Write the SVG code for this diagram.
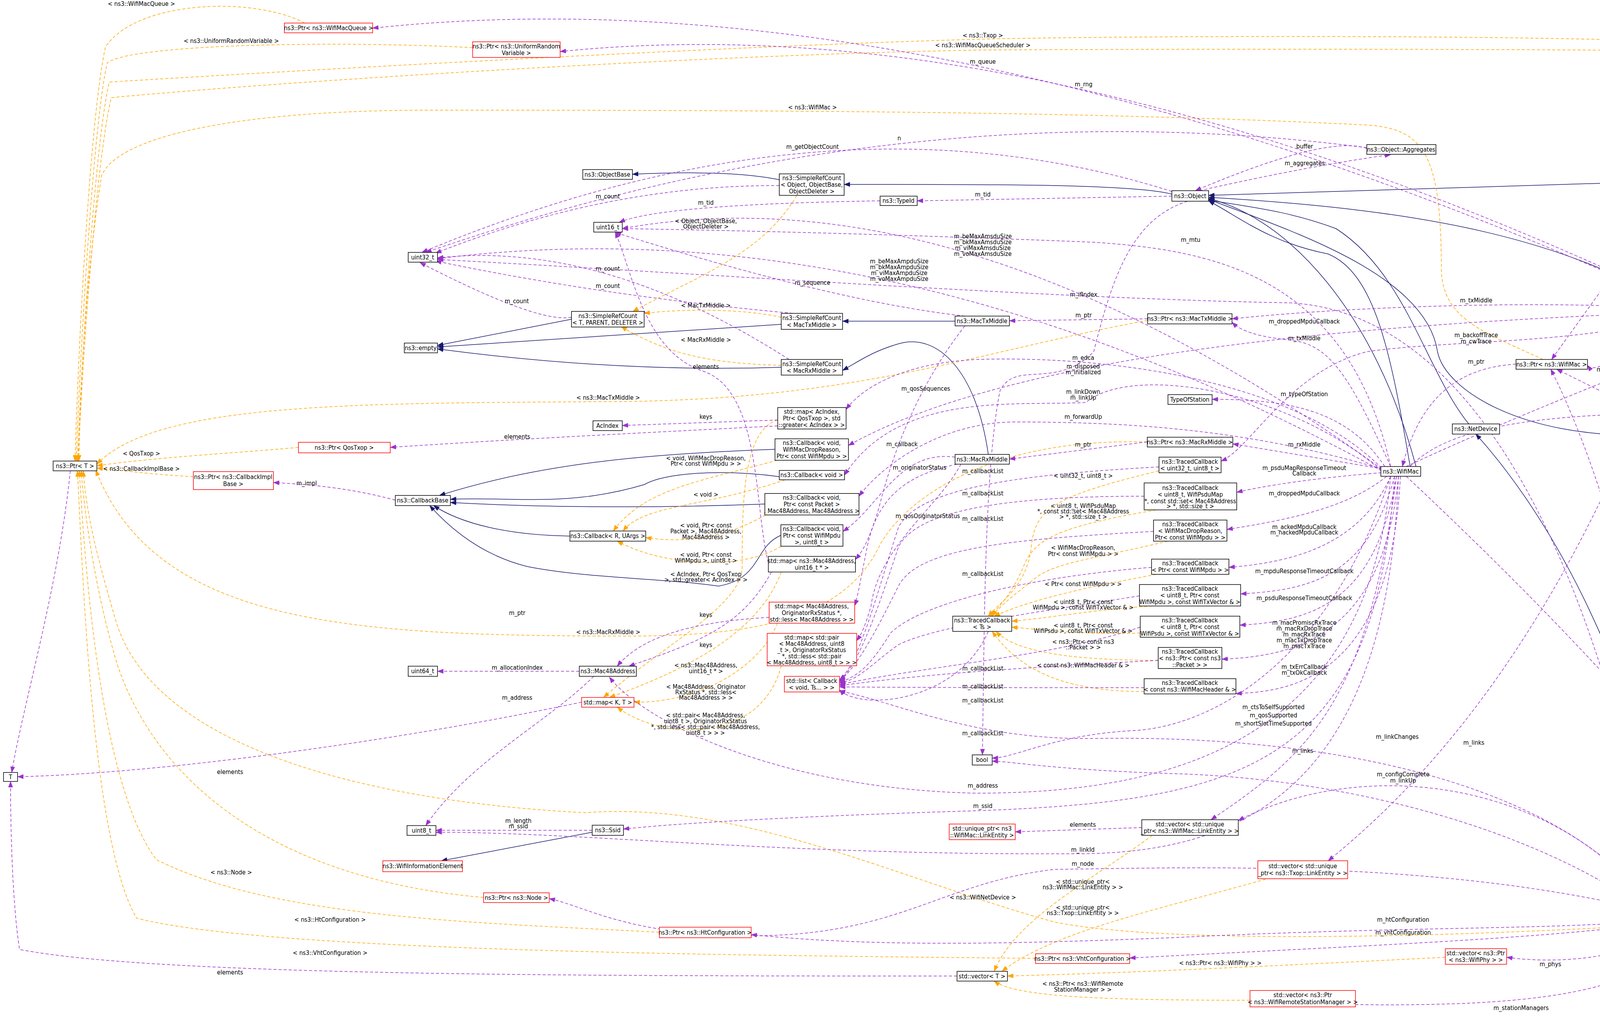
<svg xmlns="http://www.w3.org/2000/svg" width="4733" height="2608" viewBox="0 0 4733 2608">
<style>
text{font-family:"DejaVu Sans Condensed","DejaVu Sans",sans-serif;font-stretch:condensed;font-size:16px;fill:#000;text-anchor:middle}
.node rect{fill:#fff;stroke:#000;stroke-width:1.5}
.node.red rect{stroke:#ff0000}
.node.main rect{fill:#bfbfbf}
.e path{fill:none;stroke-width:1.5}
.u{stroke:#9a32cd;stroke-dasharray:8,5}
.t{stroke:#ffa500;stroke-dasharray:8,5}
.i{stroke:#191970}
</style>
<defs>
<marker id="mu" markerWidth="16" markerHeight="12" refX="15" refY="6" orient="auto" markerUnits="userSpaceOnUse"><path d="M0,0 L16,6 L0,12 z" fill="#9a32cd"/></marker>
<marker id="mt" markerWidth="16" markerHeight="12" refX="15" refY="6" orient="auto" markerUnits="userSpaceOnUse"><path d="M0,0 L16,6 L0,12 z" fill="#ffa500"/></marker>
<marker id="mi" markerWidth="16" markerHeight="12" refX="15" refY="6" orient="auto" markerUnits="userSpaceOnUse"><path d="M0,0 L16,6 L0,12 z" fill="#191970"/></marker>
</defs>
<rect width="4733" height="2608" fill="#fff"/>

<g id="edges" class="e">
<!-- inheritance -->
<g marker-end="url(#mi)">
<path class="i" d="M1995,460 C1900,440 1750,440 1619,446"/>
<path class="i" d="M3000,497 C2900,470 2500,472 2161,472"/>
<path class="i" d="M4200,466 L3094,500"/>
<path class="i" d="M4290,780 C4000,620 3700,540 3094,505"/>
<path class="i" d="M4205,1113 C3900,1120 3700,1000 3680,900 C3650,700 3300,590 3094,510"/>
<path class="i" d="M3760,1085 C3650,950 3600,700 3420,585 C3300,540 3200,530 3094,512"/>
<path class="i" d="M3610,1194 C3560,900 3520,700 3400,650 C3250,620 3180,560 3094,514"/>
<path class="i" d="M3625,1194 C3520,800 3300,560 3094,508"/>
<path class="i" d="M2445,822 L2157,822"/>
<path class="i" d="M2000,830 L1120,888"/>
<path class="i" d="M1463,817 L1120,884"/>
<path class="i" d="M2000,940 C1700,950 1400,930 1120,893"/>
<path class="i" d="M2530,1163 C2500,950 2400,850 2300,880 C2230,900 2190,930 2157,948"/>
<path class="i" d="M1984,1150 C1700,1160 1400,1180 1125,1268"/>
<path class="i" d="M1995,1220 C1850,1200 1700,1210 1650,1240 C1450,1300 1300,1270 1153,1278"/>
<path class="i" d="M1958,1290 C1700,1300 1400,1300 1153,1286"/>
<path class="i" d="M1459,1372 C1300,1370 1180,1340 1110,1294"/>
<path class="i" d="M1999,1370 C1930,1400 1950,1480 1840,1500 C1700,1480 1500,1480 1350,1450 C1230,1420 1150,1350 1100,1294"/>
<path class="i" d="M1516,2130 L1130,2203"/>
<path class="i" d="M4300,2332 C4200,1700 3950,1300 3778,1111"/>
<path class="i" d="M4519,1103 L4405,1103"/>
</g>
<!-- template -->
<g marker-end="url(#mt)">
<path class="t" d="M780,59 C650,-10 350,0 270,120 C230,300 200,900 192,1180"/>
<path class="t" d="M1210,122 C900,105 350,110 275,160 C240,300 205,900 195,1180"/>
<path class="t" d="M4620,781 C4550,500 4500,150 4350,110 C4000,90 3000,90 2516,100 C1800,120 600,190 280,210 C245,350 210,900 198,1180"/>
<path class="t" d="M4620,445 C4550,250 4500,140 4300,130 C3800,125 3000,125 2516,128 C1800,140 700,210 285,250 C248,400 212,900 200,1180"/>
<path class="t" d="M3950,920 C3800,850 3700,820 3690,700 C3690,400 3650,330 3500,320 C2800,285 2000,282 1100,282 C600,282 300,350 260,450 C220,700 205,1000 202,1180"/>
<path class="t" d="M2938,820 C2500,900 2200,1025 1557,1028 C900,1032 400,1030 248,1188"/>
<path class="t" d="M2937,1131 C2500,1120 2300,1300 2250,1400 C2150,1600 1900,1630 1557,1628 C900,1625 400,1600 245,1203"/>
<path class="t" d="M764,1145 C600,1160 400,1170 248,1192"/>
<path class="t" d="M495,1220 C400,1215 320,1205 248,1198"/>
<path class="t" d="M1238,2297 C700,2250 400,2000 300,1700 C240,1500 215,1300 208,1205"/>
<path class="t" d="M1688,2386 C1200,2360 700,2350 400,2200 C250,2000 215,1400 203,1205"/>
<path class="t" d="M2651,2453 C2000,2445 700,2440 350,2350 C230,2150 210,1400 198,1205"/>
<path class="t" d="M4500,2350 C3800,2400 3000,2420 2700,2360 C2300,2250 1900,2050 1500,2080 C900,2050 400,1900 300,1600 C240,1400 220,1300 213,1205"/>
<path class="t" d="M2040,500 C1950,650 1800,700 1620,797"/>
<path class="t" d="M2000,812 C1900,790 1750,790 1649,802"/>
<path class="t" d="M2000,935 C1800,930 1700,900 1590,836"/>
<path class="t" d="M1990,1178 C1800,1230 1650,1250 1570,1359"/>
<path class="t" d="M2010,1228 C1800,1300 1650,1290 1595,1359"/>
<path class="t" d="M1960,1318 C1850,1380 1750,1390 1653,1376"/>
<path class="t" d="M2000,1398 C1900,1460 1700,1450 1580,1385"/>
<path class="t" d="M1991,1075 C1900,1100 1900,1300 1900,1450 C1900,1550 1700,1650 1545,1785"/>
<path class="t" d="M2000,1464 C1950,1600 1800,1700 1560,1785"/>
<path class="t" d="M1990,1595 C1950,1700 1800,1800 1623,1797"/>
<path class="t" d="M2000,1704 C1950,1900 1700,1900 1580,1810"/>
<path class="t" d="M2967,1205 C2700,1270 2650,1300 2640,1400 C2630,1500 2560,1540 2530,1577"/>
<path class="t" d="M2960,1305 C2700,1350 2650,1380 2620,1450 C2590,1520 2560,1550 2535,1577"/>
<path class="t" d="M2990,1385 C2800,1430 2700,1440 2650,1480 C2600,1520 2560,1550 2540,1577"/>
<path class="t" d="M2960,1470 C2800,1500 2650,1530 2545,1577"/>
<path class="t" d="M2950,1551 C2800,1560 2700,1580 2590,1590"/>
<path class="t" d="M2919,1620 C2800,1625 2700,1615 2590,1605"/>
<path class="t" d="M2965,1690 C2750,1690 2600,1670 2550,1616"/>
<path class="t" d="M2929,1770 C2700,1770 2600,1700 2540,1616"/>
<path class="t" d="M2950,2138 C2800,2250 2600,2350 2545,2486"/>
<path class="t" d="M3240,2250 C3000,2320 2700,2380 2565,2486"/>
<path class="t" d="M3700,2450 C3300,2470 2900,2490 2579,2498"/>
<path class="t" d="M3200,2560 C2800,2560 2600,2550 2545,2511"/>
</g>
<!-- usage -->
<g marker-end="url(#mu)">
<path class="u" d="M4300,780 Q2405,-82 954,72"/>
<path class="u" d="M4310,780 Q2676,4 1434,132"/>
<path class="u" d="M3499,378 Q2310,224 1090,646"/>
<path class="u" d="M3000,490 Q2120,212 1080,646"/>
<path class="u" d="M1995,475 Q1557,473 1115,648"/>
<path class="u" d="M3000,502 L2348,514"/>
<path class="u" d="M2253,514 Q1695,523 1585,569"/>
<path class="u" d="M3499,380 Q3400,344 3060,488"/>
<path class="u" d="M3070,488 Q3365,422 3560,396"/>
<path class="u" d="M1463,812 Q1377,828 1075,672"/>
<path class="u" d="M2030,802 Q1540,757 1115,668"/>
<path class="u" d="M2020,920 Q1542,614 1120,660"/>
<path class="u" d="M3537,1200 Q2467,428 1593,585"/>
<path class="u" d="M3537,1205 Q2276,517 1120,662"/>
<path class="u" d="M2470,809 Q2138,772 1575,595"/>
<path class="u" d="M3560,1194 C3450,700 3100,640 2800,620 C2300,600 1900,590 1593,585"/>
<path class="u" d="M4250,2332 C4100,1500 3800,800 3300,775 C2700,765 1800,700 1120,664"/>
<path class="u" d="M4509,465 L4410,465"/>
<path class="u" d="M4533,793 L4347,793"/>
<path class="u" d="M3881,932 C3750,940 3640,1000 3590,1194"/>
<path class="u" d="M2938,816 L2584,821"/>
<path class="u" d="M2937,1131 L2584,1175"/>
<path class="u" d="M4290,478 L3972,920"/>
<path class="u" d="M4290,805 Q4089,970 4064,935"/>
<path class="u" d="M4280,1091 L3985,945"/>
<path class="u" d="M4310,2332 C4250,1700 4100,1200 3970,945"/>
<path class="u" d="M3600,1194 C3800,1100 4050,1000 4300,900 C4500,800 4560,600 4600,484"/>
<path class="u" d="M3610,1194 C3700,1100 3900,1070 4150,1060 C4400,1050 4550,900 4610,805"/>
<path class="u" d="M3560,1194 C3450,950 3400,880 3300,870 C3200,860 3170,840 3154,825"/>
<path class="u" d="M4262,790 C4000,770 3500,780 3154,816"/>
<path class="u" d="M4262,800 C3500,830 2600,900 2172,1140"/>
<path class="u" d="M4280,805 C4100,880 3700,870 3500,900 C3300,950 3200,1150 3126,1180"/>
<path class="u" d="M3540,1200 L3156,1136"/>
<path class="u" d="M3545,1194 C3450,1050 3300,1022 3103,1022"/>
<path class="u" d="M3537,1210 C3400,1220 3250,1240 3166,1260"/>
<path class="u" d="M3550,1219 C3450,1300 3300,1330 3141,1355"/>
<path class="u" d="M3560,1219 C3480,1400 3300,1440 3146,1452"/>
<path class="u" d="M3570,1219 C3500,1480 3350,1510 3176,1520"/>
<path class="u" d="M3575,1219 C3520,1550 3350,1590 3174,1600"/>
<path class="u" d="M3580,1219 C3540,1640 3300,1680 3128,1687"/>
<path class="u" d="M3585,1219 C3560,1740 3300,1770 3164,1775"/>
<path class="u" d="M2967,1195 C2600,1215 2350,1250 2300,1350 C2250,1500 2200,1700 2149,1740"/>
<path class="u" d="M2929,1270 C2600,1270 2350,1300 2300,1400 C2250,1550 2200,1700 2149,1742"/>
<path class="u" d="M2953,1360 C2600,1380 2350,1400 2300,1500 C2250,1600 2200,1700 2149,1744"/>
<path class="u" d="M2948,1452 C2600,1480 2350,1550 2280,1620 C2230,1700 2200,1730 2149,1746"/>
<path class="u" d="M2917,1525 C2700,1560 2400,1600 2300,1650 C2230,1700 2200,1740 2149,1748"/>
<path class="u" d="M2919,1605 C2700,1680 2400,1700 2149,1752"/>
<path class="u" d="M2965,1690 C2700,1705 2400,1720 2149,1755"/>
<path class="u" d="M2929,1760 C2600,1760 2400,1760 2149,1758"/>
<path class="u" d="M2530,1616 C2450,1800 2200,1820 2149,1765"/>
<path class="u" d="M3537,1198 C3300,960 2800,910 2500,920 C2300,930 2200,1000 2166,1048"/>
<path class="u" d="M3040,515 C2900,560 2850,700 2800,900 C2700,1000 2600,920 2560,1000 C2520,1200 2520,1600 2515,1932"/>
<path class="u" d="M3537,1205 C3300,1000 2900,930 2780,1030 C2600,1040 2300,1000 2162,1216"/>
<path class="u" d="M3537,1200 C3200,1100 2900,1080 2600,1080 C2400,1080 2250,1200 2199,1270"/>
<path class="u" d="M2445,1170 C2300,1150 2250,1300 2158,1360"/>
<path class="u" d="M2450,1188 C2350,1210 2250,1250 2220,1400 C2200,1500 2195,1530 2188,1550"/>
<path class="u" d="M2460,1188 C2400,1300 2250,1400 2230,1550 C2210,1620 2200,1630 2193,1640"/>
<path class="u" d="M2470,834 C2380,950 2300,1100 2250,1300 C2220,1400 2200,1420 2190,1432"/>
<path class="u" d="M1991,1075 L1593,1089"/>
<path class="u" d="M1991,1090 C1600,1110 1300,1125 999,1145"/>
<path class="u" d="M1969,1580 C1800,1590 1650,1620 1580,1705"/>
<path class="u" d="M1975,1464 C1900,1600 1800,1640 1610,1705"/>
<path class="u" d="M1967,1440 C1930,1300 1950,1000 1800,950 C1650,900 1620,700 1575,594"/>
<path class="u" d="M1012,1280 C900,1250 800,1240 700,1235"/>
<path class="u" d="M180,1205 C150,1500 60,1800 30,1977"/>
<path class="u" d="M1489,1797 C1000,1900 400,1980 45,1988"/>
<path class="u" d="M2450,2498 C1500,2498 400,2498 50,2430 C30,2300 27,2100 27,2000"/>
<path class="u" d="M2923,2118 L2599,2129"/>
<path class="u" d="M1483,1718 L1120,1718"/>
<path class="u" d="M1520,1731 C1400,1850 1200,1950 1090,2113"/>
<path class="u" d="M1516,2125 L1116,2125"/>
<path class="u" d="M3560,1219 C3500,1900 3000,2030 2500,2030 C2000,2020 1650,1850 1560,1733"/>
<path class="u" d="M3570,1219 C3520,1950 3200,2050 2500,2075 C2000,2090 1700,2110 1596,2122"/>
<path class="u" d="M3575,1219 C3500,1800 3350,1930 3100,2098"/>
<path class="u" d="M4300,805 C4150,1200 3900,1800 3400,2203"/>
<path class="u" d="M4240,2340 C4000,2000 3500,1930 3170,2100"/>
<path class="u" d="M3580,1219 C3550,2000 3200,2180 2772,2185 C2000,2190 1500,2130 1116,2130"/>
<path class="u" d="M4260,2340 C3700,2200 3100,2220 2700,2225 C2400,2260 2300,2400 1900,2395 C1600,2390 1500,2320 1406,2300"/>
<path class="u" d="M4240,2355 C4000,2380 3600,2370 3000,2400 C2500,2420 2200,2420 1923,2392"/>
<path class="u" d="M4250,2360 C4000,2400 3500,2420 2892,2452"/>
<path class="u" d="M4300,2360 C4200,2450 4000,2470 3857,2450"/>
<path class="u" d="M4320,2360 C4250,2550 3900,2580 3400,2570"/>
<path class="u" d="M3600,1219 C3900,1500 4300,1900 4600,2331"/>
<path class="u" d="M4500,2344 L4383,2345"/>
<path class="u" d="M4233,2340 C3900,2100 3400,1990 3000,1980 C2700,1970 2600,1950 2540,1948"/>
<path class="u" d="M3560,1219 C3400,1700 3100,1860 2900,1870 C2700,1880 2600,1940 2540,1940"/>
<path class="u" d="M4240,2335 C4000,2000 3400,1880 2800,1890 C2500,1895 2300,1800 2149,1768"/>
</g>
<!-- edge labels -->
<g id="elabels">
<text x="362" y="15">&lt; ns3::WifiMacQueue &gt;</text>
<text x="592" y="110">&lt; ns3::UniformRandomVariable &gt;</text>
<text x="2516" y="96">&lt; ns3::Txop &gt;</text>
<text x="2516" y="121">&lt; ns3::WifiMacQueueScheduler &gt;</text>
<text x="2516" y="163">m_queue</text>
<text x="2774" y="221">m_rng</text>
<text x="2080" y="280">&lt; ns3::WifiMac &gt;</text>
<text x="2302" y="359">n</text>
<text x="2080" y="381">m_getObjectCount</text>
<text x="3340" y="380">buffer</text>
<text x="3340" y="423">m_aggregates</text>
<text x="4458" y="460">m_ptr</text>
<text x="1556" y="508">m_count</text>
<text x="2516" y="503">m_tid</text>
<text x="1807" y="524">m_tid</text>
<text x="1807" y="571">&lt; Object, ObjectBase,</text>
<text x="1807" y="585">ObjectDeleter &gt;</text>
<text x="2516" y="610">m_beMaxAmsduSize</text>
<text x="2516" y="625">m_bkMaxAmsduSize</text>
<text x="2516" y="640">m_viMaxAmsduSize</text>
<text x="2516" y="655">m_voMaxAmsduSize</text>
<text x="3048" y="619">m_mtu</text>
<text x="4133" y="652">m_mac</text>
<text x="2302" y="674">m_beMaxAmpduSize</text>
<text x="2302" y="689">m_bkMaxAmpduSize</text>
<text x="2302" y="704">m_viMaxAmpduSize</text>
<text x="2302" y="719">m_voMaxAmpduSize</text>
<text x="1556" y="693">m_count</text>
<text x="1556" y="737">m_count</text>
<text x="2080" y="729">m_sequence</text>
<text x="2774" y="759">m_ifIndex</text>
<text x="1323" y="776">m_count</text>
<text x="1807" y="787">&lt; MacTxMiddle &gt;</text>
<text x="2774" y="812">m_ptr</text>
<text x="3779" y="774">m_txMiddle</text>
<text x="4458" y="789">m_ptr</text>
<text x="3339" y="828">m_droppedMpduCallback</text>
<text x="3339" y="871">m_txMiddle</text>
<text x="3779" y="863">m_backoffTrace</text>
<text x="3779" y="879">m_cwTrace</text>
<text x="1807" y="875">&lt; MacRxMiddle &gt;</text>
<text x="4133" y="912">m_mac</text>
<text x="3779" y="931">m_ptr</text>
<text x="4133" y="951">m_scheduler</text>
<text x="1807" y="944">elements</text>
<text x="2773" y="921">m_edca</text>
<text x="2773" y="943">m_disposed</text>
<text x="2773" y="958">m_initialized</text>
<text x="2370" y="1000">m_qosSequences</text>
<text x="4133" y="1003">m_mac</text>
<text x="2773" y="1008">m_linkDown</text>
<text x="2773" y="1023">m_linkUp</text>
<text x="3339" y="1014">m_typeOfStation</text>
<text x="1557" y="1023">&lt; ns3::MacTxMiddle &gt;</text>
<text x="4133" y="1050">m_txop</text>
<text x="1807" y="1072">keys</text>
<text x="2773" y="1072">m_forwardUp</text>
<text x="4133" y="1112">m_mac</text>
<text x="1324" y="1123">elements</text>
<text x="2309" y="1142">m_callback</text>
<text x="2773" y="1143">m_ptr</text>
<text x="3339" y="1143">m_rxMiddle</text>
<text x="362" y="1166">&lt; QosTxop &gt;</text>
<text x="1807" y="1178">&lt; void, WifiMacDropReason,</text>
<text x="1807" y="1192">Ptr&lt; const WifiMpdu &gt; &gt;</text>
<text x="3339" y="1203">m_psduMapResponseTimeout</text>
<text x="3339" y="1217">Callback</text>
<text x="2354" y="1202">m_originatorStatus</text>
<text x="362" y="1205">&lt; ns3::CallbackImplBase &gt;</text>
<text x="2516" y="1211">m_callbackList</text>
<text x="2773" y="1223">&lt; uint32_t, uint8_t &gt;</text>
<text x="785" y="1242">m_impl</text>
<text x="1807" y="1271">&lt; void &gt;</text>
<text x="2516" y="1268">m_callbackList</text>
<text x="3339" y="1268">m_droppedMpduCallback</text>
<text x="2773" y="1300">&lt; uint8_t, WifiPsduMap</text>
<text x="2773" y="1314">*, const std::set&lt; Mac48Address</text>
<text x="2773" y="1328">&gt; *, std::size_t &gt;</text>
<text x="2375" y="1326">m_qosOriginatorStatus</text>
<text x="2516" y="1333">m_callbackList</text>
<text x="1807" y="1350">&lt; void, Ptr&lt; const</text>
<text x="1807" y="1365">Packet &gt;, Mac48Address,</text>
<text x="1807" y="1380">Mac48Address &gt;</text>
<text x="3339" y="1354">m_ackedMpduCallback</text>
<text x="3339" y="1368">m_nackedMpduCallback</text>
<text x="2773" y="1407">&lt; WifiMacDropReason,</text>
<text x="2773" y="1423">Ptr&lt; const WifiMpdu &gt; &gt;</text>
<text x="1807" y="1425">&lt; void, Ptr&lt; const</text>
<text x="1807" y="1440">WifiMpdu &gt;, uint8_t &gt;</text>
<text x="3339" y="1467">m_mpduResponseTimeoutCallback</text>
<text x="2516" y="1474">m_callbackList</text>
<text x="1807" y="1475">&lt; AcIndex, Ptr&lt; QosTxop</text>
<text x="1807" y="1489">&gt;, std::greater&lt; AcIndex &gt; &gt;</text>
<text x="2773" y="1500">&lt; Ptr&lt; const WifiMpdu &gt; &gt;</text>
<text x="3339" y="1536">m_psduResponseTimeoutCallback</text>
<text x="2773" y="1546">&lt; uint8_t, Ptr&lt; const</text>
<text x="2773" y="1560">WifiMpdu &gt;, const WifiTxVector &amp; &gt;</text>
<text x="1807" y="1579">keys</text>
<text x="1324" y="1574">m_ptr</text>
<text x="3339" y="1599">m_macPromiscRxTrace</text>
<text x="3339" y="1614">m_macRxDropTrace</text>
<text x="3339" y="1629">m_macRxTrace</text>
<text x="3339" y="1644">m_macTxDropTrace</text>
<text x="3339" y="1659">m_macTxTrace</text>
<text x="2773" y="1606">&lt; uint8_t, Ptr&lt; const</text>
<text x="2773" y="1620">WifiPsdu &gt;, const WifiTxVector &amp; &gt;</text>
<text x="1557" y="1623">&lt; ns3::MacRxMiddle &gt;</text>
<text x="2773" y="1648">&lt; ns3::Ptr&lt; const ns3</text>
<text x="2773" y="1662">::Packet &gt; &gt;</text>
<text x="1807" y="1656">keys</text>
<text x="2773" y="1708">&lt; const ns3::WifiMacHeader &amp; &gt;</text>
<text x="3339" y="1712">m_txErrCallback</text>
<text x="3339" y="1727">m_txOkCallback</text>
<text x="1324" y="1714">m_allocationIndex</text>
<text x="1807" y="1708">&lt; ns3::Mac48Address,</text>
<text x="1807" y="1723">uint16_t * &gt;</text>
<text x="2516" y="1716">m_callbackList</text>
<text x="2516" y="1762">m_callbackList</text>
<text x="1807" y="1763">&lt; Mac48Address, Originator</text>
<text x="1807" y="1777">RxStatus *, std::less&lt;</text>
<text x="1807" y="1791">Mac48Address &gt; &gt;</text>
<text x="1324" y="1791">m_address</text>
<text x="2516" y="1798">m_callbackList</text>
<text x="3260" y="1815">m_ctsToSelfSupported</text>
<text x="3260" y="1836">m_qosSupported</text>
<text x="3260" y="1857">m_shortSlotTimeSupported</text>
<text x="4180" y="1839">m_device</text>
<text x="1806" y="1836">&lt; std::pair&lt; Mac48Address,</text>
<text x="1806" y="1851">uint8_t &gt;, OriginatorRxStatus</text>
<text x="1806" y="1866">*, std::less&lt; std::pair&lt; Mac48Address,</text>
<text x="1806" y="1881">uint8_t &gt; &gt; &gt;</text>
<text x="2516" y="1882">m_callbackList</text>
<text x="3577" y="1891">m_linkChanges</text>
<text x="3773" y="1906">m_links</text>
<text x="3335" y="1927">m_links</text>
<text x="589" y="1981">elements</text>
<text x="3592" y="1987">m_configComplete</text>
<text x="3592" y="2003">m_linkUp</text>
<text x="2516" y="2016">m_address</text>
<text x="2516" y="2068">m_ssid</text>
<text x="1327" y="2106">m_length</text>
<text x="1327" y="2120">m_ssid</text>
<text x="2772" y="2116">elements</text>
<text x="2772" y="2180">m_linkId</text>
<text x="2772" y="2216">m_node</text>
<text x="592" y="2238">&lt; ns3::Node &gt;</text>
<text x="2772" y="2262">&lt; std::unique_ptr&lt;</text>
<text x="2772" y="2276">ns3::WifiMac::LinkEntity &gt; &gt;</text>
<text x="2516" y="2302">&lt; ns3::WifiNetDevice &gt;</text>
<text x="2772" y="2328">&lt; std::unique_ptr&lt;</text>
<text x="2772" y="2342">ns3::Txop::LinkEntity &gt; &gt;</text>
<text x="4446" y="2334">m_ptr</text>
<text x="845" y="2359">&lt; ns3::HtConfiguration &gt;</text>
<text x="3592" y="2359">m_htConfiguration</text>
<text x="3592" y="2392">m_vhtConfiguration</text>
<text x="845" y="2444">&lt; ns3::VhtConfiguration &gt;</text>
<text x="3124" y="2470">&lt; ns3::Ptr&lt; ns3::WifiPhy &gt; &gt;</text>
<text x="3969" y="2473">m_phys</text>
<text x="589" y="2494">elements</text>
<text x="2772" y="2523">&lt; ns3::Ptr&lt; ns3::WifiRemote</text>
<text x="2772" y="2538">StationManager &gt; &gt;</text>
<text x="3894" y="2585">m_stationManagers</text>
</g>
</g>

<g id="n_PtrWMQ" class="node red"><rect x="728" y="59" width="226" height="25"/><text x="841" y="77">ns3::Ptr&lt; ns3::WifiMacQueue &gt;</text></g>
<g id="n_PtrURV" class="node red"><rect x="1210" y="107" width="224" height="40"/><text x="1322" y="124">ns3::Ptr&lt; ns3::UniformRandom</text><text x="1322" y="141">Variable &gt;</text></g>
<g id="n_uint32" class="node"><rect x="1045" y="646" width="75" height="25"/><text x="1082" y="664">uint32_t</text></g>
<g id="n_empty" class="node"><rect x="1035" y="878" width="85" height="25"/><text x="1077" y="896">ns3::empty</text></g>
<g id="n_SRCT" class="node"><rect x="1463" y="797" width="186" height="40"/><text x="1556" y="814">ns3::SimpleRefCount</text><text x="1556" y="831">&lt; T, PARENT, DELETER &gt;</text></g>
<g id="n_ObjectBase" class="node"><rect x="1492" y="434" width="127" height="25"/><text x="1555" y="452">ns3::ObjectBase</text></g>
<g id="n_uint16" class="node"><rect x="1520" y="569" width="73" height="25"/><text x="1556" y="587">uint16_t</text></g>
<g id="n_SRCObj" class="node"><rect x="1995" y="445" width="166" height="55"/><text x="2078" y="461">ns3::SimpleRefCount</text><text x="2078" y="478">&lt; Object, ObjectBase,</text><text x="2078" y="495">ObjectDeleter &gt;</text></g>
<g id="n_TypeId" class="node"><rect x="2253" y="502" width="95" height="24"/><text x="2300" y="519">ns3::TypeId</text></g>
<g id="n_Object" class="node"><rect x="3000" y="488" width="94" height="27"/><text x="3047" y="507">ns3::Object</text></g>
<g id="n_SRCTx" class="node"><rect x="2000" y="802" width="157" height="41"/><text x="2078" y="819">ns3::SimpleRefCount</text><text x="2078" y="837">&lt; MacTxMiddle &gt;</text></g>
<g id="n_MacTx" class="node"><rect x="2445" y="809" width="139" height="25"/><text x="2514" y="827">ns3::MacTxMiddle</text></g>
<g id="n_PtrMacTx" class="node"><rect x="2938" y="803" width="216" height="26"/><text x="3046" y="821">ns3::Ptr&lt; ns3::MacTxMiddle &gt;</text></g>
<g id="n_Aggregates" class="node"><rect x="3499" y="370" width="177" height="25"/><text x="3587" y="388">ns3::Object::Aggregates</text></g>
<g id="n_WMQS" class="node"><rect x="4200" y="452" width="210" height="26"/><text x="4305" y="470">ns3::WifiMacQueueScheduler</text></g>
<g id="n_PtrWMQS" class="node"><rect x="4509" y="445" width="211" height="39"/><text x="4614" y="461">ns3::Ptr&lt; ns3::WifiMacQueue</text><text x="4614" y="478">Scheduler &gt;</text></g>
<g id="n_Txop" class="node"><rect x="4262" y="780" width="85" height="25"/><text x="4304" y="798">ns3::Txop</text></g>
<g id="n_PtrTxop" class="node"><rect x="4533" y="781" width="163" height="24"/><text x="4614" y="798">ns3::Ptr&lt; ns3::Txop &gt;</text></g>
<g id="n_PtrWifiMac" class="node"><rect x="3881" y="920" width="183" height="25"/><text x="3972" y="938">ns3::Ptr&lt; ns3::WifiMac &gt;</text></g>
<g id="n_NetDevice" class="node"><rect x="3718" y="1085" width="121" height="26"/><text x="3778" y="1103">ns3::NetDevice</text></g>
<g id="n_WPM" class="node"><rect x="4205" y="1091" width="200" height="26"/><text x="4305" y="1109">ns3::WifiProtectionManager</text></g>
<g id="n_WDPM" class="node main"><rect x="4519" y="1083" width="192" height="40"/><text x="4615" y="1100">ns3::WifiDefaultProtection</text><text x="4615" y="1117">Manager</text></g>
<g id="n_WifiMac" class="node"><rect x="3535" y="1194" width="102" height="25"/><text x="3586" y="1212">ns3::WifiMac</text></g>
<g id="n_SRCRx" class="node"><rect x="2000" y="920" width="157" height="40"/><text x="2078" y="937">ns3::SimpleRefCount</text><text x="2078" y="954">&lt; MacRxMiddle &gt;</text></g>
<g id="n_AcIndex" class="node"><rect x="1518" y="1077" width="75" height="25"/><text x="1555" y="1095">AcIndex</text></g>
<g id="n_mapAc" class="node"><rect x="1991" y="1043" width="175" height="55"/><text x="2078" y="1059">std::map&lt; AcIndex,</text><text x="2078" y="1076">Ptr&lt; QosTxop &gt;, std</text><text x="2078" y="1093">::greater&lt; AcIndex &gt; &gt;</text></g>
<g id="n_CbDrop" class="node"><rect x="1984" y="1123" width="188" height="55"/><text x="2078" y="1139">ns3::Callback&lt; void,</text><text x="2078" y="1156">WifiMacDropReason,</text><text x="2078" y="1173">Ptr&lt; const WifiMpdu &gt; &gt;</text></g>
<g id="n_CbVoid" class="node"><rect x="1995" y="1204" width="167" height="24"/><text x="2078" y="1221">ns3::Callback&lt; void &gt;</text></g>
<g id="n_CbBase" class="node"><rect x="1012" y="1268" width="141" height="26"/><text x="1082" y="1286">ns3::CallbackBase</text></g>
<g id="n_CbPkt" class="node"><rect x="1958" y="1263" width="241" height="55"/><text x="2078" y="1279">ns3::Callback&lt; void,</text><text x="2078" y="1296">Ptr&lt; const Packet &gt;</text><text x="2078" y="1313">, Mac48Address, Mac48Address &gt;</text></g>
<g id="n_CbR" class="node"><rect x="1459" y="1359" width="194" height="26"/><text x="1556" y="1377">ns3::Callback&lt; R, UArgs &gt;</text></g>
<g id="n_CbMpdu" class="node"><rect x="1999" y="1343" width="159" height="55"/><text x="2078" y="1359">ns3::Callback&lt; void,</text><text x="2078" y="1376">Ptr&lt; const WifiMpdu</text><text x="2078" y="1393">&gt;, uint8_t &gt;</text></g>
<g id="n_mapU16" class="node"><rect x="1967" y="1424" width="223" height="40"/><text x="2078" y="1441">std::map&lt; ns3::Mac48Address,</text><text x="2078" y="1458">uint16_t * &gt;</text></g>
<g id="n_mapOrig" class="node red"><rect x="1969" y="1541" width="219" height="54"/><text x="2078" y="1557">std::map&lt; Mac48Address,</text><text x="2078" y="1574">OriginatorRxStatus *,</text><text x="2078" y="1591">std::less&lt; Mac48Address &gt; &gt;</text></g>
<g id="n_mapPair" class="node red"><rect x="1964" y="1621" width="229" height="83"/><text x="2078" y="1637">std::map&lt; std::pair</text><text x="2078" y="1653">&lt; Mac48Address, uint8</text><text x="2078" y="1669">_t &gt;, OriginatorRxStatus</text><text x="2078" y="1685">*, std::less&lt; std::pair</text><text x="2078" y="1701">&lt; Mac48Address, uint8_t &gt; &gt; &gt;</text></g>
<g id="n_uint64" class="node"><rect x="1045" y="1705" width="75" height="26"/><text x="1082" y="1723">uint64_t</text></g>
<g id="n_Mac48" class="node"><rect x="1483" y="1705" width="146" height="26"/><text x="1556" y="1723">ns3::Mac48Address</text></g>
<g id="n_list" class="node red"><rect x="2008" y="1731" width="141" height="40"/><text x="2078" y="1748">std::list&lt; Callback</text><text x="2078" y="1765">&lt; void, Ts... &gt; &gt;</text></g>
<g id="n_mapKT" class="node red"><rect x="1489" y="1785" width="134" height="25"/><text x="1556" y="1803">std::map&lt; K, T &gt;</text></g>
<g id="n_bool" class="node"><rect x="2489" y="1932" width="51" height="26"/><text x="2514" y="1950">bool</text></g>
<g id="n_Ssid" class="node"><rect x="1516" y="2112" width="80" height="26"/><text x="1556" y="2130">ns3::Ssid</text></g>
<g id="n_uniqWM" class="node red"><rect x="2430" y="2109" width="169" height="40"/><text x="2514" y="2126">std::unique_ptr&lt; ns3</text><text x="2514" y="2143">::WifiMac::LinkEntity &gt;</text></g>
<g id="n_vecWM" class="node"><rect x="2923" y="2098" width="247" height="40"/><text x="3046" y="2115">std::vector&lt; std::unique</text><text x="3046" y="2132">_ptr&lt; ns3::WifiMac::LinkEntity &gt; &gt;</text></g>
<g id="n_PtrNode" class="node red"><rect x="1238" y="2285" width="168" height="25"/><text x="1322" y="2303">ns3::Ptr&lt; ns3::Node &gt;</text></g>
<g id="n_PtrHt" class="node red"><rect x="1688" y="2373" width="235" height="27"/><text x="1805" y="2392">ns3::Ptr&lt; ns3::HtConfiguration &gt;</text></g>
<g id="n_PtrVht" class="node red"><rect x="2651" y="2441" width="241" height="25"/><text x="2771" y="2459">ns3::Ptr&lt; ns3::VhtConfiguration &gt;</text></g>
<g id="n_vecT" class="node"><rect x="2450" y="2486" width="129" height="25"/><text x="2514" y="2504">std::vector&lt; T &gt;</text></g>
<g id="n_TypeOfStation" class="node"><rect x="2990" y="1010" width="113" height="25"/><text x="3046" y="1028">TypeOfStation</text></g>
<g id="n_PtrMacRx" class="node"><rect x="2937" y="1119" width="219" height="25"/><text x="3046" y="1137">ns3::Ptr&lt; ns3::MacRxMiddle &gt;</text></g>
<g id="n_MacRx" class="node"><rect x="2445" y="1163" width="139" height="25"/><text x="2514" y="1181">ns3::MacRxMiddle</text></g>
<g id="n_TC1" class="node"><rect x="2967" y="1170" width="159" height="40"/><text x="3046" y="1187">ns3::TracedCallback</text><text x="3046" y="1204">&lt; uint32_t, uint8_t &gt;</text></g>
<g id="n_TC2" class="node"><rect x="2929" y="1236" width="237" height="69"/><text x="3047" y="1254">ns3::TracedCallback</text><text x="3047" y="1271">&lt; uint8_t, WifiPsduMap</text><text x="3047" y="1288">*, const std::set&lt; Mac48Address</text><text x="3047" y="1301">&gt; *, std::size_t &gt;</text></g>
<g id="n_TC3" class="node"><rect x="2953" y="1331" width="188" height="54"/><text x="3047" y="1347">ns3::TracedCallback</text><text x="3047" y="1364">&lt; WifiMacDropReason,</text><text x="3047" y="1381">Ptr&lt; const WifiMpdu &gt; &gt;</text></g>
<g id="n_TC4" class="node"><rect x="2948" y="1431" width="198" height="39"/><text x="3047" y="1447">ns3::TracedCallback</text><text x="3047" y="1464">&lt; Ptr&lt; const WifiMpdu &gt; &gt;</text></g>
<g id="n_TC5" class="node"><rect x="2917" y="1496" width="259" height="55"/><text x="3046" y="1512">ns3::TracedCallback</text><text x="3046" y="1529">&lt; uint8_t, Ptr&lt; const</text><text x="3046" y="1546">WifiMpdu &gt;, const WifiTxVector &amp; &gt;</text></g>
<g id="n_TC6" class="node"><rect x="2919" y="1577" width="255" height="54"/><text x="3046" y="1593">ns3::TracedCallback</text><text x="3046" y="1610">&lt; uint8_t, Ptr&lt; const</text><text x="3046" y="1627">WifiPsdu &gt;, const WifiTxVector &amp; &gt;</text></g>
<g id="n_TCTs" class="node"><rect x="2439" y="1577" width="151" height="39"/><text x="2514" y="1593">ns3::TracedCallback</text><text x="2514" y="1610">&lt; Ts &gt;</text></g>
<g id="n_TC7" class="node"><rect x="2965" y="1657" width="163" height="54"/><text x="3046" y="1673">ns3::TracedCallback</text><text x="3046" y="1690">&lt; ns3::Ptr&lt; const ns3</text><text x="3046" y="1707">::Packet &gt; &gt;</text></g>
<g id="n_TC8" class="node"><rect x="2929" y="1737" width="235" height="39"/><text x="3046" y="1753">ns3::TracedCallback</text><text x="3046" y="1770">&lt; const ns3::WifiMacHeader &amp; &gt;</text></g>
<g id="n_PtrT" class="node"><rect x="136" y="1180" width="112" height="25"/><text x="192" y="1198">ns3::Ptr&lt; T &gt;</text></g>
<g id="n_T" class="node"><rect x="9" y="1977" width="36" height="23"/><text x="27" y="1994">T</text></g>
<g id="n_PtrQos" class="node red"><rect x="764" y="1132" width="235" height="27"/><text x="881" y="1151">ns3::Ptr&lt; QosTxop &gt;</text></g>
<g id="n_PtrCbImpl" class="node red"><rect x="495" y="1207" width="205" height="46"/><text x="597" y="1226">ns3::Ptr&lt; ns3::CallbackImpl</text><text x="597" y="1244">Base &gt;</text></g>
<g id="n_uint8" class="node"><rect x="1042" y="2113" width="74" height="25"/><text x="1079" y="2131">uint8_t</text></g>
<g id="n_WIE" class="node red"><rect x="980" y="2203" width="204" height="28"/><text x="1082" y="2222">ns3::WifiInformationElement</text></g>
<g id="n_WND" class="node red"><rect x="4233" y="2332" width="150" height="26"/><text x="4308" y="2350">ns3::WifiNetDevice</text></g>
<g id="n_PtrWND" class="node"><rect x="4500" y="2331" width="224" height="26"/><text x="4612" y="2349">ns3::Ptr&lt; ns3::WifiNetDevice &gt;</text></g>
<g id="n_vecTxop" class="node red"><rect x="3220" y="2203" width="230" height="46"/><text x="3335" y="2222">std::vector&lt; std::unique</text><text x="3335" y="2240">_ptr&lt; ns3::Txop::LinkEntity &gt; &gt;</text></g>
<g id="n_vecPhy" class="node red"><rect x="3700" y="2428" width="157" height="40"/><text x="3778" y="2445">std::vector&lt; ns3::Ptr</text><text x="3778" y="2462">&lt; ns3::WifiPhy &gt; &gt;</text></g>
<g id="n_vecWRSM" class="node red"><rect x="3200" y="2535" width="270" height="42"/><text x="3335" y="2552">std::vector&lt; ns3::Ptr</text><text x="3335" y="2570">&lt; ns3::WifiRemoteStationManager &gt; &gt;</text></g>
</svg>
